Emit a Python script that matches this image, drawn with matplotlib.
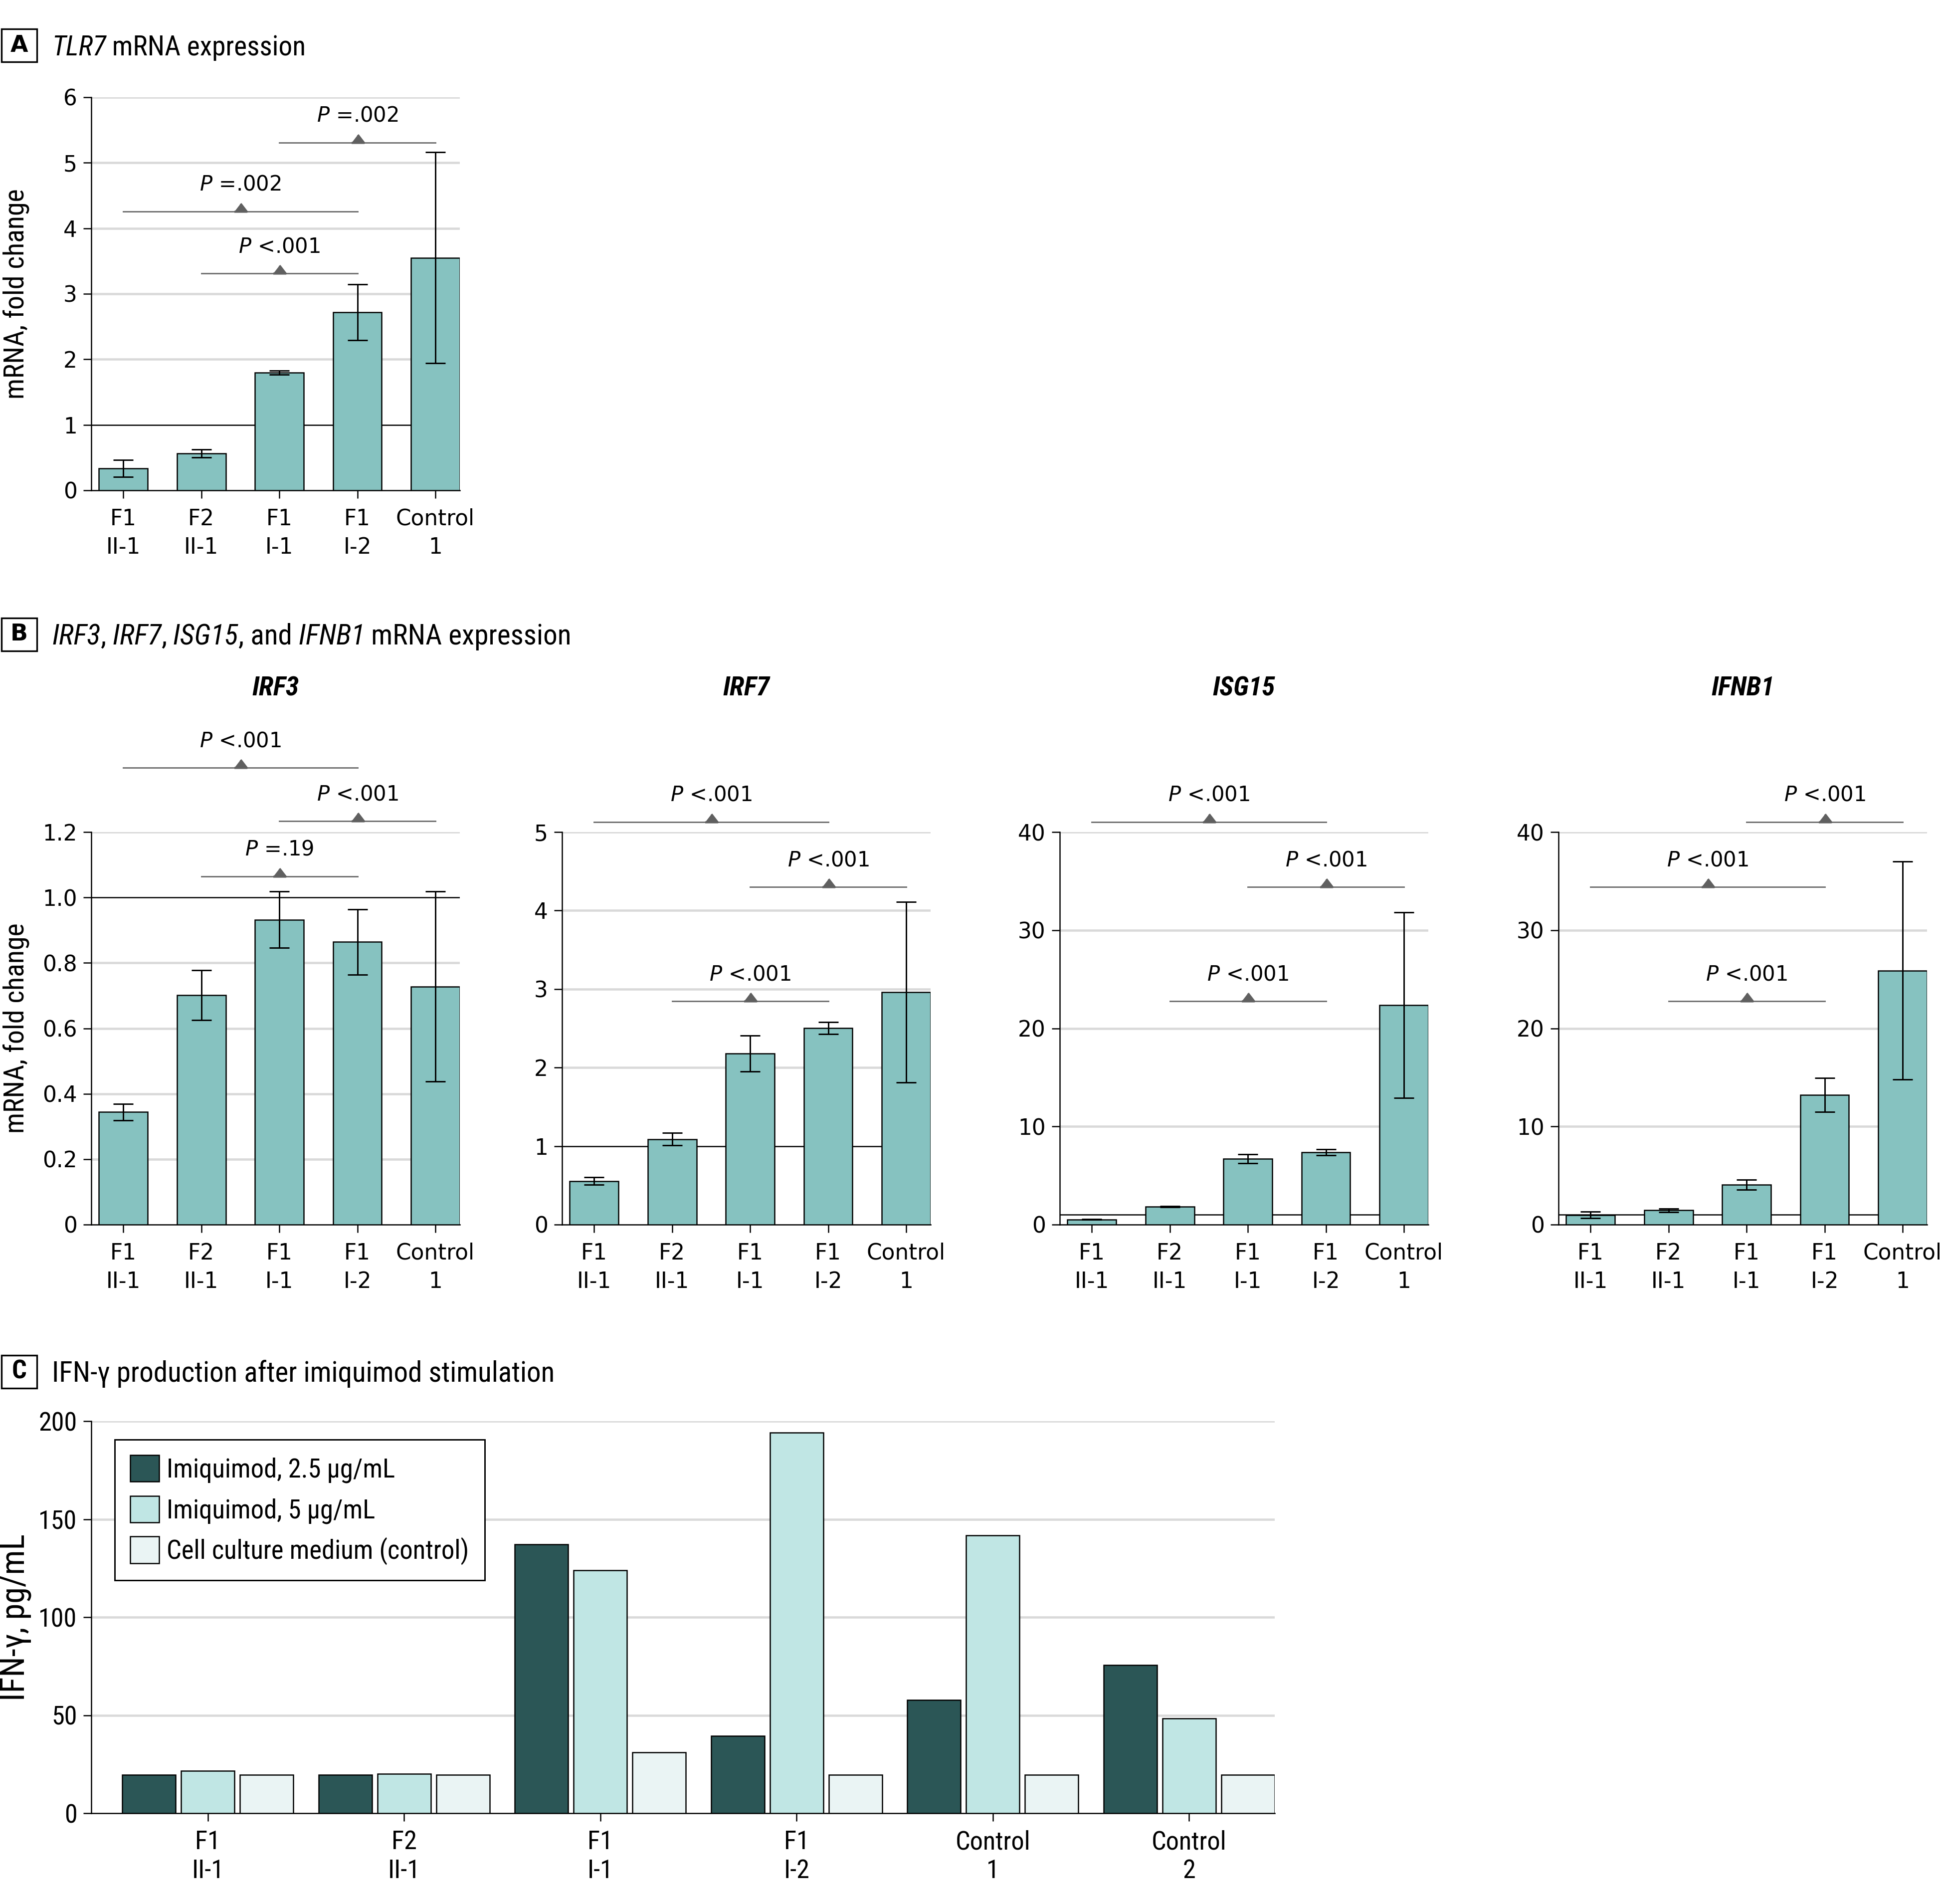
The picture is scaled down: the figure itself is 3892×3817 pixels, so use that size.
import matplotlib
matplotlib.use("Agg")
import matplotlib.pyplot as plt
from matplotlib import font_manager as fm
from matplotlib.font_manager import FontProperties
from matplotlib.patches import Rectangle

plt.rcParams['font.family'] = ['DejaVu Sans']

# ---- data ----
samples = ['F1\nII-1', 'F2\nII-1', 'F1\nI-1', 'F1\nI-2', 'Control\n1']

tlr7 = [0.335, 0.565, 1.80, 2.72, 3.55]
tlr7_err = [0.13, 0.06, 0.03, 0.425, 1.61]
tlr7_p = [(2, 4, 5.31, 'P =.002'), (0, 3, 4.26, 'P =.002'), (1, 3, 3.31, 'P <.001')]

irf3 = [0.344, 0.701, 0.932, 0.864, 0.728]
irf3_err = [0.025, 0.076, 0.086, 0.10, 0.29]
irf3_p = [(0, 3, 1.397, 'P <.001'), (2, 4, 1.233, 'P <.001'), (1, 3, 1.065, 'P =.19')]

irf7 = [0.554, 1.089, 2.179, 2.505, 2.961]
irf7_err = [0.047, 0.08, 0.23, 0.075, 1.15]
irf7_p = [(0, 3, 5.13, 'P <.001'), (2, 4, 4.30, 'P <.001'), (1, 3, 2.845, 'P <.001')]

isg15 = [0.52, 1.82, 6.70, 7.37, 22.38]
isg15_err = [0.03, 0.05, 0.45, 0.30, 9.45]
isg15_p = [(0, 3, 41.04, 'P <.001'), (2, 4, 34.41, 'P <.001'), (1, 3, 22.76, 'P <.001')]

ifnb1 = [0.97, 1.45, 4.06, 13.22, 25.88]
ifnb1_err = [0.33, 0.16, 0.52, 1.72, 11.1]
ifnb1_p = [(2, 4, 41.04, 'P <.001'), (0, 3, 34.41, 'P <.001'), (1, 3, 22.76, 'P <.001')]

groups = ['F1\nII-1', 'F2\nII-1', 'F1\nI-1', 'F1\nI-2', 'Control\n1', 'Control\n2']
ifn_25 = [19.6, 19.6, 137.2, 39.4, 57.8, 75.5]
ifn_5 = [21.6, 20.1, 123.9, 194.1, 141.8, 48.3]
ifn_medium = [19.6, 19.6, 31.0, 19.6, 19.6, 19.6]
ifn_labels = ['Imiquimod, 2.5 µg/mL', 'Imiquimod, 5 µg/mL', 'Cell culture medium (control)']

TEAL = '#86c2c0'
GRID = '#d9d9d9'


# ---- narrow font lookup (whatever condensed face is installed) ----
def _weight(f):
    w = f.weight
    if isinstance(w, str):
        w = fm.weight_dict.get(w, 400)
    return w


def narrow_entries():
    fl = fm.fontManager.ttflist
    tests = [
        lambda f: f.name == 'Liberation Sans Narrow',
        lambda f: f.name == 'Roboto Condensed',
        lambda f: 'NotoSans-Condensed' in f.fname,
        lambda f: 'DejaVuSansCondensed' in f.fname,
        lambda f: 'OpenSans' in f.fname and 'Condensed' in f.fname and 'Semi' not in f.fname,
        lambda f: 'Condensed' in f.name,
    ]
    for t in tests:
        found = [f for f in fl if t(f)]
        if found:
            return found
    return []


NARROW_SET = narrow_entries()


def narrow(italic=False, bold=False):
    cands = [f for f in NARROW_SET if (f.style != 'normal') == italic]
    target = 700 if bold else 400
    if cands:
        f = min(cands, key=lambda f: abs(_weight(f) - target))
        if abs(_weight(f) - target) <= 150:
            return FontProperties(fname=f.fname)
    return FontProperties(family='DejaVu Sans', style='italic' if italic else 'normal',
                          weight='bold' if bold else 'normal')


RM = narrow()
IT = narrow(italic=True)
BI = narrow(italic=True, bold=True)
BF = narrow(bold=True)

W, H = 3892, 3817
fig = plt.figure(figsize=(W / 300, H / 300), dpi=300)
renderer = fig.canvas.get_renderer()


def fp_size(fp, size):
    p = fp.copy()
    p.set_size(size)
    return p


def fit(s, fp, width_px):
    t = fig.text(0, 0, s, fontproperties=fp_size(fp, 10))
    w = t.get_window_extent(renderer).width
    t.remove()
    return 10 * width_px / w


def runs_text(x_px, base_px, runs, width_px):
    # mixed italic / roman title, scaled so the whole line spans width_px
    size = 10
    for attempt in range(2):
        x = x_px
        made = []
        for s, fp in runs:
            t = fig.text(x / W, 1 - base_px / H, s, fontproperties=fp_size(fp, size), va='baseline')
            made.append(t)
            x = t.get_window_extent(renderer).x1
        if attempt == 0:
            size = size * width_px / (x - x_px)
            for t in made:
                t.remove()


def add_ax(left, right, bottom, top):
    return fig.add_axes([left / W, 1 - bottom / H, (right - left) / W, (bottom - top) / H])


def style_ax(ax, xpad):
    for s in ['top', 'right']:
        ax.spines[s].set_visible(False)
    for s in ['left', 'bottom']:
        ax.spines[s].set_linewidth(0.6)
    ax.tick_params(length=3.8, width=0.6, pad=3)
    ax.tick_params(axis='x', pad=xpad)


def bar_panel(ax, vals, errs, yticks, yticklabels, brackets):
    x = list(range(len(vals)))
    ax.bar(x, vals, width=0.625, color=TEAL, edgecolor='black', linewidth=0.6, zorder=3)
    ax.errorbar(x, vals, yerr=errs, fmt='none', ecolor='black', elinewidth=0.7,
                capsize=4.8, capthick=0.7, zorder=4)
    for yt in yticks[1:]:
        if yt != 1:
            ax.axhline(yt, color=GRID, lw=1.1, zorder=1)
    ax.axhline(1, color='black', lw=0.6, zorder=2)
    ax.set_xlim(-0.41, 4.313)
    ax.set_ylim(0, yticks[-1])
    ax.set_yticks(yticks)
    ax.set_yticklabels(yticklabels, fontsize=10.5)
    ax.set_xticks(x)
    ax.set_xticklabels(samples, fontsize=10.5)
    for lab in ax.get_xticklabels():
        lab.set_linespacing(1.42)
    style_ax(ax, 4.8)
    for x0, x1, y, label in brackets:
        xm = (x0 + x1) / 2
        ax.plot([x0, x1], [y, y], color='#707070', lw=0.7, clip_on=False, zorder=5)
        ax.plot([xm], [y], marker=[(-1, 0), (1, 0), (0, 1.3)], ms=7.8, color='#606060',
                clip_on=False, zorder=6)
        ax.annotate(label.replace('P', r'$\mathit{P}$', 1), (xm, y), xytext=(0, 10),
                    textcoords='offset points', ha='center', va='baseline', fontsize=10,
                    math_fontfamily='dejavusans', annotation_clip=False)


def panel_label(letter, cy, fp):
    fig.add_artist(Rectangle((3 / W, 1 - (cy + 33) / H), 71 / W, 66 / H, transform=fig.transFigure,
                             fc='white', ec='black', lw=0.8))
    fig.text(38.5 / W, 1 - cy / H, letter, ha='center', va='center', fontproperties=fp)


title_size = fit('TLR7 mRNA expression', RM, 509)
ylab_size = fit('mRNA, fold change', RM, 422)

# ---- panel A ----
axA = add_ax(183, 922, 983, 195)
bar_panel(axA, tlr7, tlr7_err, [0, 1, 2, 3, 4, 5, 6], ['0', '1', '2', '3', '4', '5', '6'], tlr7_p)
panel_label('A', 91, FontProperties(family='DejaVu Sans', weight='bold', size=11))
runs_text(104, 111, [('TLR7', IT), (' mRNA expression', RM)], 509)
fig.text(32 / W, 1 - 589 / H, 'mRNA, fold change', rotation=90, ha='center', va='center',
         fontproperties=fp_size(RM, ylab_size))

# ---- panel B ----
panel_label('B', 1272, FontProperties(family='DejaVu Sans', weight='bold', size=11))
runs_text(104, 1292, [('IRF3', IT), (',', RM), (' IRF7', IT), (',', RM), (' ISG15', IT),
                      (', and', RM), (' IFNB1', IT), (' mRNA expression', RM)], 1042)
fig.text(32 / W, 1 - 2061 / H, 'mRNA, fold change', rotation=90, ha='center', va='center',
         fontproperties=fp_size(RM, ylab_size))

sub_size = fit('IRF3', BI, 94)
b_lefts = [183, 1127, 2125, 3125]
b_names = ['IRF3', 'IRF7', 'ISG15', 'IFNB1']
b_vals = [irf3, irf7, isg15, ifnb1]
b_errs = [irf3_err, irf7_err, isg15_err, ifnb1_err]
b_p = [irf3_p, irf7_p, isg15_p, ifnb1_p]
b_ticks = [
    ([0, 0.2, 0.4, 0.6, 0.8, 1.0, 1.2], ['0', '0.2', '0.4', '0.6', '0.8', '1.0', '1.2']),
    ([0, 1, 2, 3, 4, 5], ['0', '1', '2', '3', '4', '5']),
    ([0, 10, 20, 30, 40], ['0', '10', '20', '30', '40']),
    ([0, 10, 20, 30, 40], ['0', '10', '20', '30', '40']),
]
for left, name, vals, errs, p, (yt, ytl) in zip(b_lefts, b_names, b_vals, b_errs, b_p, b_ticks):
    ax = add_ax(left, left + 739, 2455, 1668)
    bar_panel(ax, vals, errs, yt, ytl, p)
    fig.text((left + 369.5) / W, 1 - 1380 / H, name, ha='center', va='center',
             fontproperties=fp_size(BI, sub_size))

# ---- panel C ----
panel_label('C', 2750, fp_size(BF, title_size * 0.95))
c_title_size = fit('IFN-γ production after imiquimod stimulation', RM, 1008)
fig.text(104 / W, 1 - 2770 / H, 'IFN-γ production after imiquimod stimulation',
         fontproperties=fp_size(RM, c_title_size), va='baseline')
fig.text(31 / W, 1 - 3242 / H, 'IFN-γ, pg/mL', rotation=90, ha='center', va='center',
         fontproperties=fp_size(RM, fit('IFN-γ, pg/mL', RM, 335)))

axC = add_ax(183, 2556, 3635, 2849)
xg = list(range(len(groups)))
colors = ['#2b5656', '#c0e6e4', '#eaf4f4']
for i, (vals, col, lab) in enumerate(zip([ifn_25, ifn_5, ifn_medium], colors, ifn_labels)):
    pos = [g + (i - 1) * 0.30 for g in xg]
    axC.bar(pos, vals, width=0.272, color=col, edgecolor='black', linewidth=0.6, label=lab,
            zorder=3)
for yt in [50, 100, 150, 200]:
    axC.axhline(yt, color=GRID, lw=1.1, zorder=1)
axC.set_xlim(-0.594, 5.436)
axC.set_ylim(0, 200)
axC.set_yticks([0, 50, 100, 150, 200])
axC.set_xticks(xg)
axC.set_xticklabels(groups)
style_ax(axC, 4.2)
c_tick_size = fit('Control', RM, 151)
for lab in axC.get_xticklabels() + axC.get_yticklabels():
    lab.set_fontproperties(fp_size(RM, c_tick_size))
for lab in axC.get_xticklabels():
    lab.set_linespacing(1.19)

leg_size = fit('Cell culture medium (control)', RM, 606)
em = leg_size * 300 / 72
leg = axC.legend(loc='upper left', bbox_to_anchor=(0.02, 0.953), borderaxespad=0,
                 frameon=True, fancybox=False, edgecolor='black', framealpha=1,
                 prop=fp_size(RM, leg_size), handlelength=58 / em, handleheight=62 / em,
                 handletextpad=15 / em, labelspacing=0.3 + 10 / em, borderpad=31 / em)
leg.get_frame().set_linewidth(0.7)

fig.savefig('out.png', dpi=300)
